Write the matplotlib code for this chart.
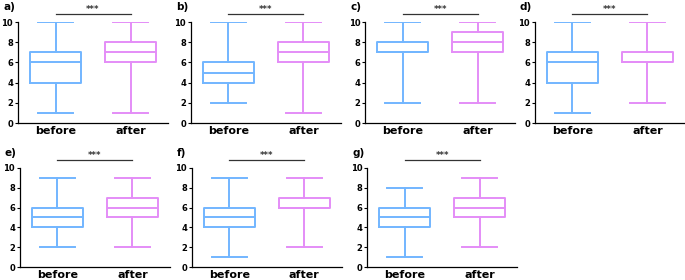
import matplotlib
matplotlib.use("Agg")
import matplotlib.pyplot as plt

# five-number summaries (min, q1, median, q3, max)
panel_labels = ["a)", "b)", "c)", "d)", "e)", "f)", "g)"]
groups = ["before", "after"]
before_stats = [
    [1, 4, 6, 7, 10],
    [2, 4, 5, 6, 10],
    [2, 7, 7, 8, 10],
    [1, 4, 6, 7, 10],
    [2, 4, 5, 6, 9],
    [1, 4, 5, 6, 9],
    [1, 4, 5, 6, 8],
]
after_stats = [
    [1, 6, 7, 8, 10],
    [1, 6, 7, 8, 10],
    [2, 7, 8, 9, 10],
    [2, 6, 6, 7, 10],
    [2, 5, 6, 7, 9],
    [2, 6, 6, 7, 9],
    [2, 5, 6, 7, 9],
]
signif = "***"
yticks = [0, 2, 4, 6, 8, 10]

colors = ["#72B6FF", "#E48DF7"]

plt.rcParams["font.family"] = "DejaVu Sans"
plt.rcParams["font.weight"] = "bold"

fig = plt.figure(figsize=(6.85, 2.8), dpi=100)

# axes rectangles in figure fractions (left, bottom, width, height)
top_left = [0.0263, 0.2788, 0.533, 0.781]
bot_left = [0.029, 0.280, 0.536]
rects = [[l, 0.5607, 0.219, 0.3607] for l in top_left] + \
        [[l, 0.0464, 0.219, 0.354] for l in bot_left]


def to_bxp(s, label):
    return dict(whislo=s[0], q1=s[1], med=s[2], q3=s[3], whishi=s[4],
                label=label, fliers=[])


for i, rect in enumerate(rects):
    ax = fig.add_axes(rect)
    for j, stats in enumerate([before_stats[i], after_stats[i]]):
        c = colors[j]
        ax.bxp([to_bxp(stats, groups[j])], positions=[j], widths=0.68,
               showfliers=False, manage_ticks=False,
               boxprops=dict(color=c, linewidth=1.4),
               medianprops=dict(color=c, linewidth=1.4),
               whiskerprops=dict(color=c, linewidth=1.4),
               capprops=dict(color=c, linewidth=1.4),
               capwidths=0.47)
    ax.set_xlim(-0.5, 1.5)
    ax.set_ylim(0, 10)
    ax.set_yticks(yticks)
    ax.set_xticks([0, 1])
    ax.set_xticklabels(groups, fontsize=8, fontweight="bold")
    ax.tick_params(axis="x", length=0, pad=2)
    ax.tick_params(axis="y", labelsize=6, length=2.5, width=0.8, pad=1)
    for t in ax.get_yticklabels():
        t.set_fontweight("bold")
    for s in ["top", "right"]:
        ax.spines[s].set_visible(False)
    for s in ["left", "bottom"]:
        ax.spines[s].set_linewidth(0.9)
    # significance bar
    ax.plot([0, 1], [10.75, 10.75], color="#333333", linewidth=0.9,
            clip_on=False)
    ax.text(0.5, 10.8, signif, ha="center", va="bottom", fontsize=6,
            color="#333333")
    ax.text(-0.1, 1.15, panel_labels[i], transform=ax.transAxes,
            fontsize=7.5, fontweight="bold", ha="left", va="center")

fig.savefig("out.png", dpi=100)
